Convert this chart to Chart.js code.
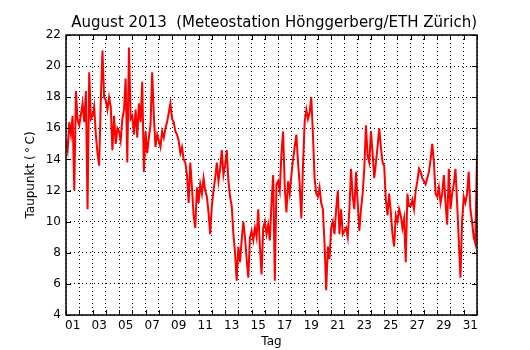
<!DOCTYPE html>
<html>
<head>
<meta charset="utf-8">
<script src="https://cdn.jsdelivr.net/npm/chart.js@4/dist/chart.umd.min.js"></script>
<style>
  body { margin: 0; background: #fff; }
  #chart { display: block; }
</style>
</head>
<body>
<canvas id="chart" width="530" height="350"></canvas>
<script>
// Taupunkt August 2013, ein Wert alle 3 Stunden (00, 03, ... 21 Uhr)
const STUNDEN_PRO_WERT = 3;
const taupunkt = [
  15.2, 14.6, 16.4, 15.6, 16.8, 12.0, 18.4, 16.5,   // 01
  16.2, 16.9, 17.6, 16.4, 18.4, 10.8, 19.6, 16.6,   // 02
  16.8, 17.4, 15.6, 14.4, 13.6, 17.8, 21.0, 18.0,   // 03
  17.8, 17.2, 18.0, 17.4, 14.6, 16.8, 15.0, 16.0,   // 04
  15.8, 15.2, 16.6, 17.2, 19.2, 13.8, 21.2, 16.6,   // 05
  16.8, 15.6, 17.2, 15.4, 17.6, 16.4, 19.0, 13.2,   // 06
  15.8, 14.4, 15.4, 16.2, 19.6, 16.8, 14.8, 15.6,   // 07
  15.2, 14.8, 15.8, 15.4, 16.0, 16.4, 17.0, 17.6,   // 08
  16.6, 16.4, 15.8, 15.6, 15.2, 14.4, 14.8, 14.0,   // 09
  13.8, 13.0, 11.2, 13.8, 12.2, 10.4, 9.6, 12.2,    // 10
  11.2, 12.4, 11.8, 12.8, 12.0, 11.6, 10.6, 9.2,    // 11
  11.0, 12.0, 12.8, 13.8, 12.6, 13.4, 14.6, 13.0,   // 12
  13.6, 14.6, 12.6, 11.6, 11.0, 9.2, 8.0, 6.2,      // 13
  8.4, 7.4, 8.8, 10.0, 9.0, 7.6, 6.4, 9.0,          // 14
  9.4, 8.8, 9.6, 9.0, 10.8, 8.4, 6.6, 9.6,          // 15
  10.0, 9.2, 9.8, 8.8, 11.2, 13.0, 6.2, 12.4,       // 16
  12.6, 12.0, 14.4, 15.8, 12.2, 10.6, 12.6, 11.8,   // 17
  13.0, 14.0, 14.8, 15.6, 13.8, 12.4, 10.2, 13.6,   // 18
  16.4, 17.2, 16.6, 17.0, 18.0, 15.6, 12.8, 11.8,   // 19
  11.6, 12.2, 11.2, 10.8, 8.6, 5.6, 8.4, 7.6,       // 20
  9.6, 10.0, 9.2, 10.8, 12.0, 9.2, 10.8, 9.2,       // 21
  9.4, 9.6, 9.0, 10.8, 13.4, 11.6, 10.8, 13.2,      // 22
  11.2, 9.4, 10.8, 11.8, 13.4, 16.2, 14.2, 13.8,    // 23
  15.8, 14.4, 12.8, 13.8, 14.8, 16.0, 14.8, 13.8,   // 24
  13.6, 11.4, 10.4, 11.8, 10.6, 9.2, 8.4, 10.4,     // 25
  10.0, 10.8, 10.4, 9.6, 10.2, 7.4, 11.8, 11.0,     // 26
  11.0, 11.4, 10.8, 12.0, 12.6, 13.4, 13.2, 12.8,   // 27
  12.6, 12.4, 12.8, 13.2, 14.0, 15.0, 13.8, 11.8,   // 28
  11.6, 12.2, 11.2, 11.8, 13.0, 11.2, 9.8, 13.4,    // 29
  10.8, 11.8, 12.4, 13.4, 11.2, 8.8, 6.4, 10.0,     // 30
  11.6, 11.2, 11.8, 13.2, 10.8, 10.0, 9.0, 8.6,     // 31
  14.2
];

// Beschriftung der x-Achse (jeweils Tagesmitte)
const tagLabels = ["01", "03", "05", "07", "09", "11", "13", "15",
                   "17", "19", "21", "23", "25", "27", "29", "31"];
const tagMitten = [0.5, 2.5, 4.5, 6.5, 8.5, 10.5, 12.5, 14.5,
                   16.5, 18.5, 20.5, 22.5, 24.5, 26.5, 28.5, 30.5];
const ANZAHL_TAGE = 31;
const Y_MIN = 4, Y_MAX = 22, Y_SCHRITT = 2;

const punkte = taupunkt.map((v, i) => ({ x: i * STUNDEN_PRO_WERT / 24, y: v }));

Chart.defaults.font.family = "'DejaVu Sans', sans-serif";
Chart.defaults.color = "#000";

// Rahmen und nach innen zeigende Ticks wie bei matplotlib
const rahmen = {
  id: "rahmen",
  afterDatasetsDraw(chart) {
    const { ctx, chartArea: a } = chart;
    const xs = chart.scales.xGrid, ys = chart.scales.y;
    ctx.save();
    ctx.strokeStyle = "#000";
    ctx.lineWidth = 1;
    ctx.beginPath();
    for (let d = 0; d <= ANZAHL_TAGE; d++) {
      const px = Math.round(xs.getPixelForValue(d)) + 0.5;
      ctx.moveTo(px, a.bottom); ctx.lineTo(px, a.bottom - 5);
      ctx.moveTo(px, a.top); ctx.lineTo(px, a.top + 5);
    }
    for (let v = Y_MIN; v <= Y_MAX; v += Y_SCHRITT) {
      const py = Math.round(ys.getPixelForValue(v)) + 0.5;
      ctx.moveTo(a.left, py); ctx.lineTo(a.left + 5, py);
      ctx.moveTo(a.right, py); ctx.lineTo(a.right - 5, py);
    }
    ctx.stroke();
    ctx.lineWidth = 1.5;
    ctx.strokeRect(a.left, a.top, a.right - a.left, a.bottom - a.top);
    ctx.restore();
  }
};

new Chart(document.getElementById("chart"), {
  type: "line",
  data: {
    datasets: [{
      data: punkte,
      borderColor: "#ff0000",
      borderWidth: 2,
      pointRadius: 0,
      tension: 0,
      fill: false
    }]
  },
  options: {
    responsive: false,
    animation: false,
    layout: { padding: { left: 0, right: 53, top: 0, bottom: 0 } },
    plugins: {
      legend: { display: false },
      tooltip: { enabled: false },
      title: {
        display: true,
        align: "end",
        text: "August 2013  (Meteostation Hönggerberg/ETH Zürich)",
        font: { size: 15, weight: "normal" },
        color: "#000",
        padding: { top: 14, bottom: 3 }
      }
    },
    scales: {
      x: {
        type: "linear",
        min: 0,
        max: ANZAHL_TAGE,
        afterBuildTicks: axis => { axis.ticks = tagMitten.map(v => ({ value: v })); },
        afterFit: s => { s.height = 35; },
        ticks: {
          autoSkip: false,
          maxRotation: 0,
          padding: 4,
          font: { size: 12 },
          callback: (val, i) => tagLabels[i]
        },
        grid: { display: false, drawTicks: false },
        border: { display: false },
        title: { display: true, text: "Tag", font: { size: 12 }, padding: { top: 0, bottom: 1 } }
      },
      xGrid: {
        type: "linear",
        position: "bottom",
        min: 0,
        max: ANZAHL_TAGE,
        afterFit: s => { s.height = 0; },
        ticks: { display: false, stepSize: 1 },
        grid: { color: "#000", lineWidth: 1, drawTicks: false },
        border: { display: false, dash: [1, 3] }
      },
      y: {
        min: Y_MIN,
        max: Y_MAX,
        afterFit: s => { s.width = 66; },
        ticks: { stepSize: Y_SCHRITT, padding: 5, font: { size: 12 } },
        grid: { color: "#000", lineWidth: 1, drawTicks: false },
        border: { display: false, dash: [1, 3] },
        title: {
          display: true,
          text: "Taupunkt (\u2009\u00B0\u2009C)",
          font: { size: 12 },
          padding: { top: 24, bottom: 0 }
        }
      }
    }
  },
  plugins: [rahmen]
});
</script>
</body>
</html>
